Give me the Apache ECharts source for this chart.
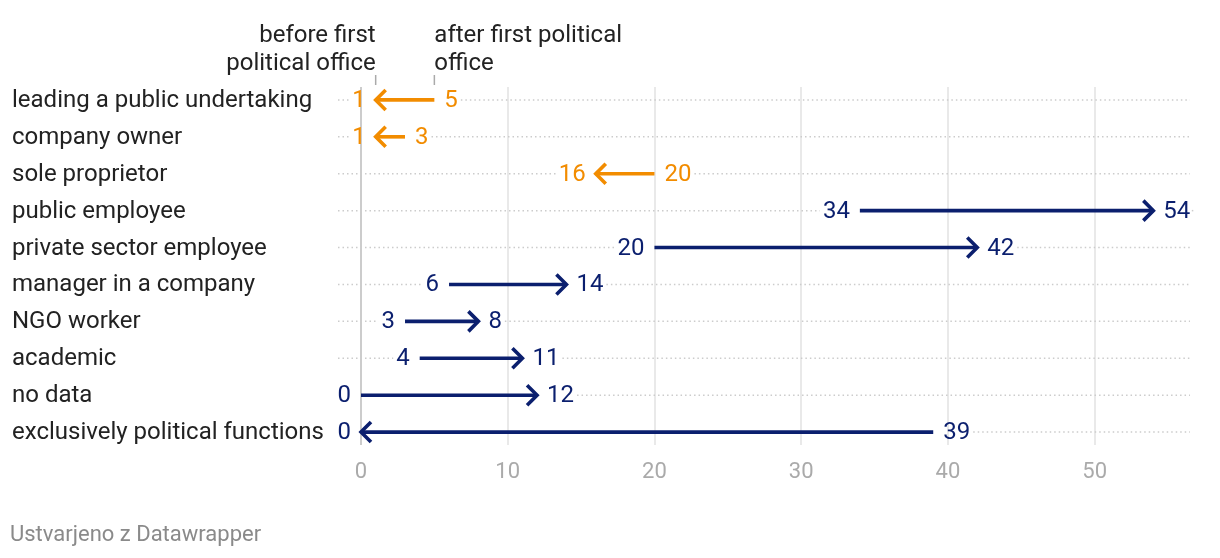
<!DOCTYPE html>
<html>
<head>
<meta charset="utf-8">
<script src="https://cdn.jsdelivr.net/npm/echarts@6/dist/echarts.min.js"></script>
<style>
html, body { margin: 0; padding: 0; background: #fff; }
#chart { width: 1220px; height: 558px; }
</style>
</head>
<body>
<div id="chart"></div>
<script>
// rows, top to bottom
var categories = [
    'leading a public undertaking',
    'company owner',
    'sole proprietor',
    'public employee',
    'private sector employee',
    'manager in a company',
    'NGO worker',
    'academic',
    'no data',
    'exclusively political functions'
];
// arrow tail and arrow head values
var fromVal = [5, 3, 20, 34, 20, 6, 3, 4, 0, 39];
var toVal   = [1, 1, 16, 54, 42, 14, 8, 11, 12, 0];
// colour group per row (0 = orange, 1 = navy)
var colorGroup = [0, 0, 0, 1, 1, 1, 1, 1, 1, 1];

var headerLeft  = 'before first\npolitical office';
var headerRight = 'after first political\noffice';
var footerText  = 'Ustvarjeno z Datawrapper';

var COLORS = ['#f28c00', '#0b1f6e'];
var FONT = 'Roboto, "Noto Sans", sans-serif';
var FS = 24;
var DIGIT_W = 0.562; // roboto digit advance

var chart = echarts.init(document.getElementById('chart'));

var rows = categories.map(function (c, i) { return [fromVal[i], toVal[i], i]; });

function renderArrow(params, api) {
    var a = api.value(0), b = api.value(1), i = api.value(2);
    var p0 = api.coord([a, i]);
    var p1 = api.coord([b, i]);
    var cs = params.coordSys;
    var y = p0[1];
    var dir = b >= a ? 1 : -1;
    var color = COLORS[colorGroup[i]];
    var gap = 10;
    var tailW = String(a).length * FS * DIGIT_W;
    var headW = String(b).length * FS * DIGIT_W;
    var tailX = p0[0] - dir * gap;
    var headX = p1[0] + dir * gap;
    var leftEdge, rightEdge;
    if (dir > 0) { leftEdge = tailX - tailW; rightEdge = headX + headW; }
    else { leftEdge = headX - headW; rightEdge = tailX + tailW; }

    var rowLeft = cs.x - 23;
    var rowRight = cs.x + cs.width;
    var dot = { stroke: '#cccccc', lineWidth: 1.5, lineDash: [1.5, 3] };
    var kids = [];

    // dotted row line, broken around the labels
    if (leftEdge - 3 > rowLeft) {
        kids.push({ type: 'line', shape: { x1: rowLeft, y1: y, x2: leftEdge - 3, y2: y }, style: dot });
    }
    kids.push({ type: 'line', shape: { x1: rightEdge + 3, y1: y, x2: rowRight, y2: y }, style: dot });

    // category name
    kids.push({
        type: 'text', x: 12, y: y + 1,
        style: { text: categories[i], fill: '#222', font: FS + 'px ' + FONT, verticalAlign: 'middle', align: 'left' }
    });

    // shaft + chevron
    kids.push({ type: 'line', shape: { x1: p0[0], y1: y, x2: p1[0], y2: y },
        style: { stroke: color, lineWidth: 3.6 } });
    kids.push({ type: 'polyline',
        shape: { points: [[p1[0] - dir * 10, y - 10], [p1[0], y], [p1[0] - dir * 10, y + 10]] },
        style: { stroke: color, lineWidth: 3.6, fill: null, lineJoin: 'miter' } });

    // values
    kids.push({ type: 'text', x: tailX, y: y + 1,
        style: { text: String(a), fill: color, font: FS + 'px ' + FONT, verticalAlign: 'middle', align: dir > 0 ? 'right' : 'left' } });
    kids.push({ type: 'text', x: headX, y: y + 1,
        style: { text: String(b), fill: color, font: FS + 'px ' + FONT, verticalAlign: 'middle', align: dir > 0 ? 'left' : 'right' } });

    // column headers above first row
    if (i === 0) {
        var xl = api.coord([Math.min(a, b), 0])[0];
        var xr = api.coord([Math.max(a, b), 0])[0];
        var t = cs.y;
        var tick = { stroke: '#aaaaaa', lineWidth: 1.5 };
        kids.push({ type: 'line', shape: { x1: xl, y1: t - 12, x2: xl, y2: t - 2 }, style: tick });
        kids.push({ type: 'line', shape: { x1: xr, y1: t - 12, x2: xr, y2: t - 2 }, style: tick });
        kids.push({ type: 'text', x: xl, y: t - 9,
            style: { text: headerLeft, fill: '#222', font: FS + 'px ' + FONT, lineHeight: 28, align: 'right', verticalAlign: 'bottom' } });
        kids.push({ type: 'text', x: xr, y: t - 9,
            style: { text: headerRight, fill: '#222', font: FS + 'px ' + FONT, lineHeight: 28, align: 'left', verticalAlign: 'bottom' } });
    }
    return { type: 'group', children: kids };
}

var gridColors = ['#bbbbbb', '#e2e2e2', '#e2e2e2', '#e2e2e2', '#e2e2e2', '#e2e2e2', '#e2e2e2'];

var option = {
    backgroundColor: '#fff',
    animation: false,
    grid: { left: 361, right: 30, top: 87, bottom: 113 },
    xAxis: {
        type: 'value',
        min: 0,
        max: 56.5,
        interval: 10,
        axisLine: { show: false },
        axisTick: { show: false },
        axisLabel: { color: '#aaaaaa', fontSize: 22, fontFamily: FONT, margin: 16, showMaxLabel: false },
        splitLine: { show: true, showMaxLine: false, lineStyle: { color: gridColors, width: 1.5 } }
    },
    yAxis: {
        type: 'value',
        min: -0.35,
        max: 9.35,
        inverse: true,
        show: false
    },
    graphic: [{
        type: 'text', left: 10, top: 524,
        style: { text: footerText, fill: '#8a8a8a', font: '22px ' + FONT }
    }],
    series: [{
        type: 'custom',
        clip: false,
        renderItem: renderArrow,
        data: rows
    }]
};

chart.setOption(option);
</script>
</body>
</html>
